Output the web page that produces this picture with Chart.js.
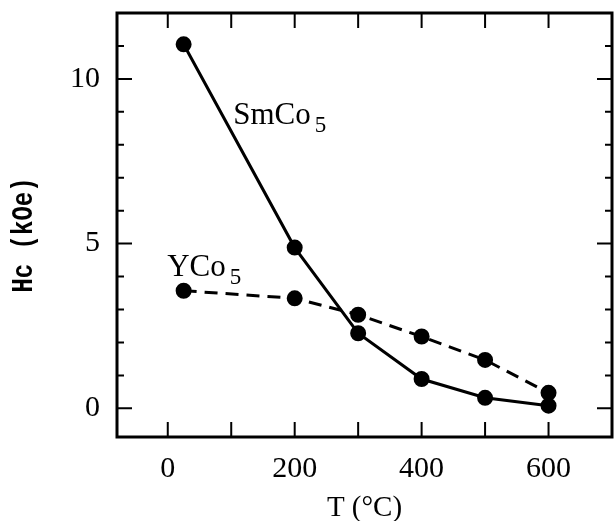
<!DOCTYPE html>
<html>
<head>
<meta charset="utf-8">
<script src="https://cdn.jsdelivr.net/npm/chart.js@4/dist/chart.umd.min.js"></script>
<style>
  html, body { margin: 0; padding: 0; background: #fff; }
  #wrap { width: 615px; height: 521px; }
</style>
</head>
<body>
<div id="wrap"><canvas id="grafico"></canvas></div>
<script>
// temperaturas (°C) e coercividade Hc (kOe)
const temperaturas = [25, 200, 300, 400, 500, 600];
const hcSmCo5 = [11.05, 4.88, 2.28, 0.89, 0.32, 0.08];
const hcYCo5 = [3.57, 3.34, 2.84, 2.18, 1.47, 0.47];
const ticksX = [0, 100, 200, 300, 400, 500, 600];
const rotulosX = [0, 200, 400, 600];
const ticksY = [0, 1, 2, 3, 4, 5, 6, 7, 8, 9, 10, 11];
const rotulosY = [0, 5, 10];
const rotulosSerie = [
    { texto: 'SmCo', sub: '5', x: 103, y: 8.64 },
    { texto: 'YCo', sub: '5', x: -1, y: 4.02 }
];
const tituloY = 'Hc (kOe)';

const serif = '"Liberation Serif", "Times New Roman", serif';

const molduraPlugin = {
    id: 'moldura',
    afterDatasetsDraw(chart) {
        const { ctx, chartArea: a, scales } = chart;
        const sx = scales.x, sy = scales.y;
        ctx.save();
        ctx.strokeStyle = '#000';
        ctx.lineWidth = 2;
        ticksX.forEach(v => {
            const px = sx.getPixelForValue(v);
            ctx.beginPath();
            ctx.moveTo(px, a.bottom); ctx.lineTo(px, a.bottom - 15);
            ctx.moveTo(px, a.top); ctx.lineTo(px, a.top + 15);
            ctx.stroke();
        });
        ticksY.forEach(v => {
            const py = sy.getPixelForValue(v);
            const len = rotulosY.includes(v) ? 15 : 7;
            ctx.beginPath();
            ctx.moveTo(a.left, py); ctx.lineTo(a.left + len, py);
            ctx.moveTo(a.right, py); ctx.lineTo(a.right - len, py);
            ctx.stroke();
        });
        ctx.lineWidth = 3;
        ctx.strokeRect(a.left, a.top, a.right - a.left, a.bottom - a.top);

        // nomes das séries
        ctx.fillStyle = '#000';
        ctx.textBaseline = 'alphabetic';
        ctx.textAlign = 'left';
        rotulosSerie.forEach(r => {
            const px = sx.getPixelForValue(r.x);
            const py = sy.getPixelForValue(r.y);
            ctx.font = '31px ' + serif;
            ctx.fillText(r.texto, px, py);
            const w = ctx.measureText(r.texto).width;
            ctx.font = '23px ' + serif;
            ctx.fillText(r.sub, px + w + 4, py + 8);
        });

        // título do eixo y (fonte estreita e alta)
        ctx.translate(24, (a.top + a.bottom) / 2 + 10);
        ctx.rotate(-Math.PI / 2);
        ctx.scale(0.8, 1);
        ctx.font = 'bold 30px "Liberation Mono", monospace';
        ctx.textAlign = 'center';
        ctx.textBaseline = 'middle';
        ctx.fillText(tituloY, 0, 0);
        ctx.restore();
    }
};

new Chart(document.getElementById('grafico'), {
    type: 'line',
    data: {
        labels: temperaturas,
        datasets: [
            {
                label: 'SmCo5',
                data: temperaturas.map((t, i) => ({ x: t, y: hcSmCo5[i] })),
                borderColor: '#000',
                backgroundColor: '#000',
                borderWidth: 3,
                pointRadius: 6.5,
                pointHoverRadius: 6.5,
                tension: 0
            },
            {
                label: 'YCo5',
                data: temperaturas.map((t, i) => ({ x: t, y: hcYCo5[i] })),
                borderColor: '#000',
                backgroundColor: '#000',
                borderWidth: 3,
                borderDash: [13, 8],
                pointRadius: 6.5,
                pointHoverRadius: 6.5,
                tension: 0
            }
        ]
    },
    options: {
        responsive: true,
        maintainAspectRatio: false,
        animation: false,
        layout: { autoPadding: false, padding: { top: 13, right: 3, left: 0, bottom: 0 } },
        plugins: { legend: { display: false }, tooltip: { enabled: false } },
        scales: {
            x: {
                type: 'linear',
                min: -80,
                max: 700,
                grid: { display: false, drawTicks: false },
                border: { display: false },
                afterFit(scale) {
                    scale.height = 84;
                    scale.paddingLeft = 0;
                    scale.paddingRight = 0;
                },
                afterBuildTicks(scale) {
                    scale.ticks = rotulosX.map(v => ({ value: v }));
                },
                ticks: {
                    color: '#000',
                    padding: 14,
                    font: { family: serif, size: 30 },
                    maxRotation: 0,
                    autoSkip: false
                },
                title: {
                    display: true,
                    text: 'T (°C)',
                    color: '#000',
                    font: { family: serif, size: 29 },
                    padding: { top: 0, bottom: -5 }
                }
            },
            y: {
                min: -0.87,
                max: 12,
                grid: { display: false, drawTicks: false },
                border: { display: false },
                afterFit(scale) {
                    scale.width = 117;
                    scale.paddingTop = 0;
                    scale.paddingBottom = 0;
                },
                afterBuildTicks(scale) {
                    scale.ticks = rotulosY.map(v => ({ value: v }));
                },
                ticks: {
                    color: '#000',
                    padding: 17,
                    font: { family: serif, size: 30 },
                    autoSkip: false
                },
                title: { display: false }
            }
        }
    },
    plugins: [molduraPlugin]
});
</script>
</body>
</html>
